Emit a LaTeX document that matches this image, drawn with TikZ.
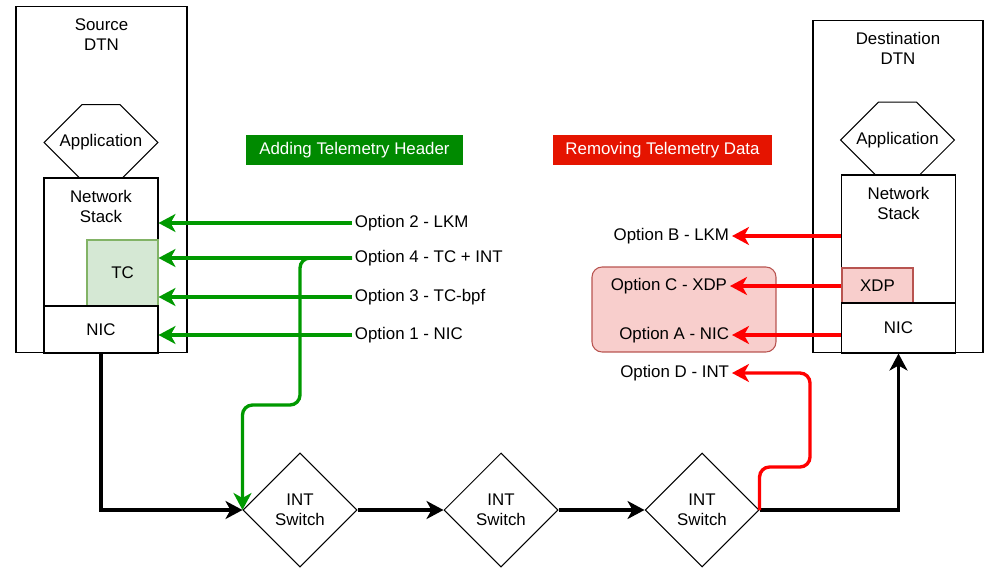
\documentclass[tikz,border=0pt]{standalone}
\usepackage{fontspec}
\setmainfont{Liberation Sans}
\usepackage{xcolor}
\usepackage{tikz}
\usetikzlibrary{shapes.geometric, shapes.misc, arrows.meta, positioning}

\definecolor{hdrgreen}{HTML}{008A00}
\definecolor{hdrred}{HTML}{E51400}
\definecolor{addgreen}{HTML}{009900}
\definecolor{remred}{HTML}{FF0000}
\definecolor{tcfill}{HTML}{D5E8D4}
\definecolor{tcdraw}{HTML}{82B366}
\definecolor{xdpfill}{HTML}{F8CECC}
\definecolor{xdpdraw}{HTML}{B85450}

\begin{document}
\begin{tikzpicture}[
  x=0.02cm, y=-0.02cm,
  node distance=1.72cm,
  font=\fontsize{9.6}{11.4}\selectfont,
  dtn/.style={rectangle, draw=black, line width=0.6pt},
  dtntitle/.style={anchor=north, align=center, yshift=-0.14cm},
  app/.style={chamfered rectangle, chamfered rectangle xsep=0.58cm, chamfered rectangle ysep=0.6cm, draw=black, line width=0.6pt, fill=white, minimum width=2.28cm, minimum height=1.42cm, inner sep=0pt},
  layer/.style={rectangle, draw=black, line width=0.6pt, fill=white, minimum width=2.28cm, inner sep=0pt},
  tcbox/.style={rectangle, draw=tcdraw, line width=0.6pt, fill=tcfill, inner sep=0pt},
  xdpbox/.style={rectangle, draw=xdpdraw, line width=0.6pt, fill=xdpfill, inner sep=0pt},
  group/.style={rectangle, rounded corners=0.2cm, draw=xdpdraw, line width=0.6pt, fill=xdpfill, inner sep=0pt},
  header/.style={rectangle, minimum height=0.6cm, text=white, inner sep=0pt},
  switch/.style={diamond, draw=black, line width=0.6pt, fill=white, minimum width=2.28cm, minimum height=2.28cm, inner sep=0pt, align=center},
  option/.style={inner sep=1.5pt},
  flow/.style={-{Stealth[length=0.34cm, width=0.36cm, inset=0.1cm]}, line width=1.9pt},
  addarrow/.style={flow, draw=addgreen},
  remarrow/.style={flow, draw=remred},
]
\useasboundingbox (0,0) rectangle (988,568);

% Source DTN
\node[dtn, minimum width=3.42cm, minimum height=6.94cm, label={[dtntitle]north:Source\\DTN}] (srcdtn) at (101.5,179.5) {};
\node[app] (srcapp) at (101,142.5) {Application};
\node[layer, minimum height=2.56cm, label={[dtntitle]north:Network\\Stack}] (srcstack) at (101,242) {};
\node[tcbox, minimum width=1.42cm, minimum height=1.32cm] (srctc) at (122.5,273) {TC};
\node[layer, minimum height=0.94cm] (srcnic) at (101,329.5) {NIC};

% Destination DTN
\node[dtn, minimum width=3.4cm, minimum height=6.66cm, label={[dtntitle]north:Destination\\DTN}] (dstdtn) at (898,186.5) {};
\node[app, minimum height=1.4cm] (dstapp) at (897.5,140) {Application};
\node[layer, minimum height=2.56cm, label={[dtntitle]north:Network\\Stack}] (dststack) at (898.5,239) {};
\node[xdpbox, minimum width=1.42cm, minimum height=0.7cm] (dstxdp) at (877.5,285.5) {XDP};
\node[layer, minimum height=1cm] (dstnic) at (898.5,328) {NIC};

% Headers
\node[header, fill=hdrgreen, minimum width=4.34cm] (addhdr) at (354.5,150) {Adding Telemetry Header};
\node[header, fill=hdrred, minimum width=4.38cm] (remhdr) at (662.5,150) {Removing Telemetry Data};

% Options
\node[option, anchor=west] (opt2) at (352,223) {Option 2 - LKM};
\node[option, anchor=west] (opt4) at (352,258) {Option 4 - TC + INT};
\node[option, anchor=west] (opt3) at (352,297) {Option 3 - TC-bpf};
\node[option, anchor=west] (opt1) at (352,335) {Option 1 - NIC};
\node[group, minimum width=3.68cm, minimum height=1.7cm] (optgrp) at (684,309.5) {};
\node[option, anchor=east] (optB) at (732,236) {Option B - LKM};
\node[option, anchor=east] (optC) at (730,286) {Option C - XDP};
\node[option, anchor=east] (optA) at (732,335) {Option A - NIC};
\node[option, anchor=east] (optD) at (732,373) {Option D - INT};

% Switches
\node[switch] (sw1) at (300,510) {INT\\Switch};
\node[switch, right=of sw1] (sw2) {INT\\Switch};
\node[switch, right=of sw2] (sw3) {INT\\Switch};
\coordinate (gbend) at (300,405);
\coordinate (rbend) at (810,467);

% Data path
\draw[flow] (srcnic.south) |- (sw1.west);
\draw[flow] (sw1.east) -- (sw2.west);
\draw[flow] (sw2.east) -- (sw3.west);
\draw[flow] (sw3.east) -| (dstnic.south);

% Adding telemetry
\draw[addarrow] (opt2.west) -- (opt2.west -| srcstack.east);
\draw[addarrow] (opt4.west) -- (opt4.west -| srcstack.east);
\draw[addarrow] (opt3.west) -- (opt3.west -| srcstack.east);
\draw[addarrow] (opt1.west) -- (opt1.west -| srcnic.east);
\draw[addarrow, rounded corners=0.2cm] (opt4.west) -| (gbend) -| (sw1.west);

% Removing telemetry
\draw[remarrow] (optB.east -| dststack.west) -- (optB.east);
\draw[remarrow] (optC.east -| dststack.west) -- (optC.east);
\draw[remarrow] (optA.east -| dstnic.west) -- (optA.east);
\draw[remarrow, rounded corners=0.2cm] (sw3.east) |- (rbend) |- (optD.east);

\end{tikzpicture}
\end{document}
